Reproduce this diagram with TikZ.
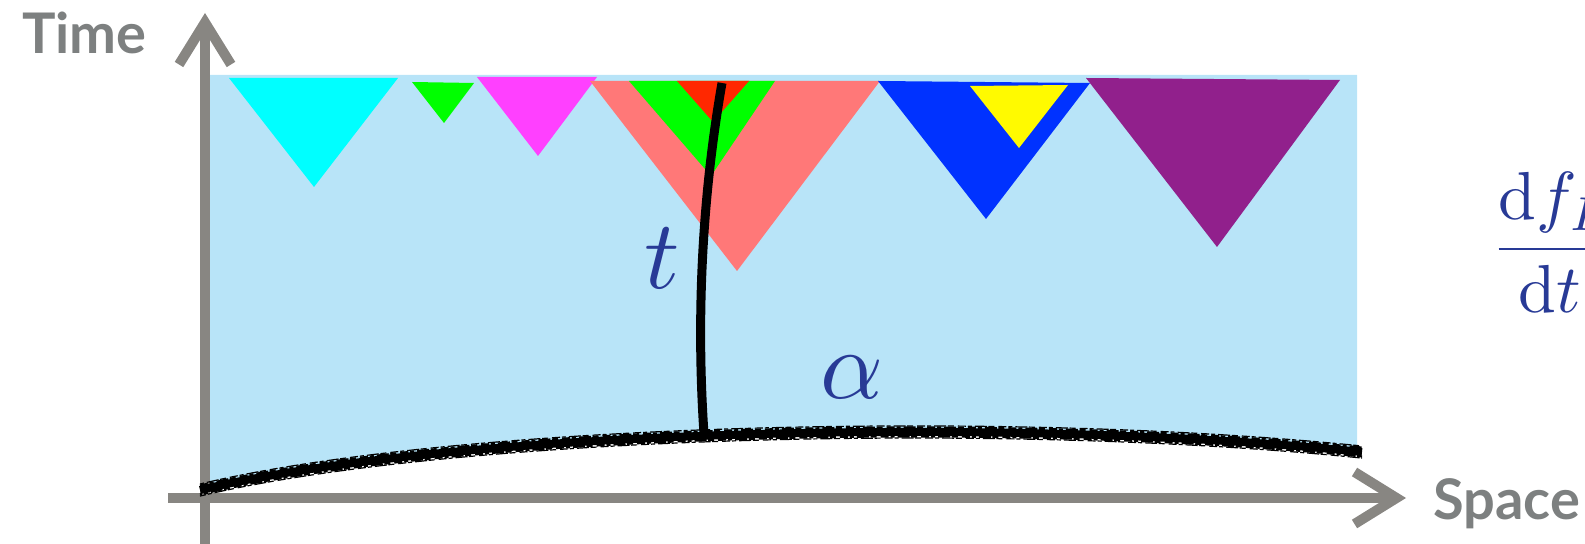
\documentclass[tikz,border=0pt]{standalone}
\usepackage{fontspec}
\newfontfamily\axisfont{Lato}
\usepackage{tikz}
\usetikzlibrary{arrows.meta,positioning}

\definecolor{axisgray}{RGB}{136,134,130}
\definecolor{labelgray}{RGB}{125,128,128}
\definecolor{sheetblue}{RGB}{184,228,248}
\definecolor{mathblue}{RGB}{40,58,150}
\definecolor{conecyan}{RGB}{0,255,255}
\definecolor{conegreen}{RGB}{0,255,0}
\definecolor{conemagenta}{RGB}{255,64,255}
\definecolor{conesalmon}{RGB}{255,120,120}
\definecolor{conered}{RGB}{255,40,0}
\definecolor{coneblue}{RGB}{0,50,255}
\definecolor{coneyellow}{RGB}{255,250,0}
\definecolor{conepurple}{RGB}{145,32,140}

\tikzset{
  axisline/.style={line width=5pt, axisgray, -{Straight Barb[length=21pt, width=26pt]}},
  axislabel/.style={inner sep=0pt, text=labelgray, font=\axisfont\bfseries\fontsize{28}{30}\selectfont},
  mathlabel/.style={inner sep=0pt, text=mathblue, scale=4.9},
  rough/.style={line width=1.1pt, dash pattern=on 4pt off 1pt on 2pt off 1.5pt on 6pt off 0.8pt on 3pt off 2pt}
}

\begin{document}
\begin{tikzpicture}[x=0.5pt, y=-0.5pt]
    \useasboundingbox (0,0) rectangle (1585,544);

    % the spacetime sheet
    \fill [sheetblue] (205,75) -- (1357,75) -- (1357,451)
        .. controls (1000,415) and (450,430) .. (203,490) -- cycle;

    % light cones
    \fill [conecyan] (229,78) -- (398,78) -- (314,187) -- cycle;
    \fill [conegreen] (412,82) -- (474,83) -- (444,123) -- cycle;
    \fill [conemagenta] (477,77) -- (597,77) -- (538,156) -- cycle;
    \fill [conesalmon] (590,81) -- (880,81) -- (737,271) -- cycle;
    \fill [conegreen] (629,81) -- (775,81) -- (711,176) -- cycle;
    \fill [conered] (677,81) -- (749,81) -- (713,122) -- cycle;
    \fill [coneblue] (878,81) -- (1090,83) -- (986,219) -- cycle;
    \fill [coneyellow] (970,86) -- (1068,85) -- (1019,148) -- cycle;
    \fill [conepurple] (1086,78) -- (1340,80) -- (1217,247) -- cycle;

    % axes
    \coordinate (origin) at (205,498);
    \coordinate (tend) at (205,13);
    \coordinate (xend) at (1406,498);
    \draw [axisline] (205,544) -- (tend);
    \draw [axisline] (168,498) -- (xend);
    \node (time) [axislabel, anchor=base west] at (22,54) {Time};
    \node (space) [axislabel, anchor=base west] at (1433,520) {Space};

    % initial surface, charcoal look
    \draw [line width=4pt] (200,490) .. controls (450,430) and (1000,415) .. (1362,452);
    \foreach \dy/\lw/\ph in {-4.4/1.1/0, 4.5/1.1/3, -6/0.6/5, 6.1/0.6/1}
        \draw [rough, line width=\lw pt, dash phase=\ph pt]
            (200,490+\dy) .. controls (450,430+\dy) and (1000,415+\dy) .. (1362,452+\dy);

    % world line
    \coordinate (wl-top) at (722,83);
    \coordinate (wl-bot) at (704,434);
    \draw [line width=4.5pt] (wl-bot) .. controls (695,300) and (705,180) .. (wl-top);

    \node (tlabel) [mathlabel] at (662,258) {$t$};
    \node (alabel) [mathlabel] at (852,377) {$\alpha$};
    \node (rate) [mathlabel, scale=3.4/4.9, anchor=base west] at (1489,266)
        {$\displaystyle\frac{\mathrm{d}f_I}{\mathrm{d}t}$};
\end{tikzpicture}
\end{document}
